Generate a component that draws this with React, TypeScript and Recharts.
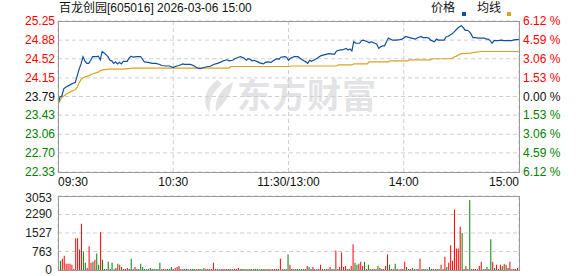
import { LineChart, Line, BarChart, Bar, Cell, XAxis, YAxis, CartesianGrid } from 'recharts';

const FONT = '"Liberation Sans", Arial, "Noto Sans CJK SC", sans-serif';
const RED = '#ff0000';
const GREEN = '#008000';

// minute index from 09:30 (0) to 15:00 (240), lunch break collapsed
const timeTicks = [0, 60, 120, 180, 240];
const timeLabels = ['09:30', '10:30', '11:30/13:00', '14:00', '15:00'];

const prevClose = 23.79;
const priceTicks = [22.33, 22.7, 23.06, 23.43, 23.79, 24.15, 24.52, 24.88, 25.25];
const pctTicks = [-6.12, -4.59, -3.06, -1.53, 0, 1.53, 3.06, 4.59, 6.12];
const volTicks = [0, 763, 1527, 2290, 3053];

// price line, sampled minutes
const priceMinutes = [
  0, 1, 2, 3, 4, 6, 8, 9, 10, 11, 12, 13, 14, 15, 16, 17, 18, 20, 21, 22,
  23, 24, 25, 26, 27, 28, 29, 30, 31, 32, 33, 34, 36, 37, 38, 39, 41, 43, 44, 45,
  47, 49, 51, 53, 54, 56, 58, 60, 61, 63, 65, 66, 69, 71, 72, 74, 76, 78, 79, 81,
  83, 85, 86, 88, 89, 91, 92, 94, 95, 97, 98, 99, 100, 101, 102, 104, 105, 107, 108, 109,
  111, 112, 114, 115, 116, 118, 119, 120, 121, 123, 125, 126, 128, 129, 130, 131, 132, 133, 135, 136,
  137, 139, 140, 141, 143, 144, 145, 147, 148, 150, 151, 152, 153, 154, 155, 157, 158, 159, 161, 162,
  163, 165, 166, 167, 168, 169, 170, 171, 172, 174, 176, 178, 179, 180, 181, 183, 184, 186, 187, 189,
  190, 192, 193, 194, 196, 197, 198, 199, 201, 202, 203, 205, 206, 207, 208, 209, 210, 211, 212, 213,
  214, 215, 216, 217, 219, 220, 222, 223, 224, 225, 226, 227, 229, 231, 232, 234, 236, 238, 240,
];
const priceValues = [
  23.64, 23.78, 23.8, 23.94, 23.97, 24.01, 24.05, 24.06, 24.19, 24.32, 24.42, 24.56, 24.48, 24.43, 24.43, 24.49, 24.56, 24.56, 24.57, 24.5,
  24.66, 24.63, 24.6, 24.56, 24.49, 24.48, 24.43, 24.46, 24.42, 24.45, 24.42, 24.47, 24.47, 24.53, 24.57, 24.55, 24.56, 24.56, 24.51, 24.46,
  24.45, 24.43, 24.43, 24.41, 24.39, 24.38, 24.38, 24.35, 24.37, 24.39, 24.42, 24.41, 24.41, 24.38, 24.35, 24.33, 24.35, 24.37, 24.37, 24.41,
  24.43, 24.46, 24.48, 24.5, 24.48, 24.49, 24.52, 24.55, 24.56, 24.53, 24.49, 24.52, 24.51, 24.48, 24.49, 24.46, 24.44, 24.42, 24.45, 24.46,
  24.45, 24.48, 24.52, 24.51, 24.55, 24.56, 24.55, 24.49, 24.53, 24.56, 24.56, 24.53, 24.48, 24.46, 24.43, 24.49, 24.47, 24.49, 24.53, 24.56,
  24.58, 24.6, 24.61, 24.62, 24.61, 24.61, 24.67, 24.69, 24.69, 24.72, 24.69, 24.71, 24.67, 24.85, 24.82, 24.82, 24.87, 24.88, 24.85, 24.83,
  24.85, 24.82, 24.8, 24.72, 24.75, 24.77, 24.77, 24.85, 24.92, 24.88, 24.88, 24.89, 24.9, 24.92, 24.95, 24.93, 24.92, 24.9, 24.92, 24.95,
  24.93, 24.93, 24.92, 24.88, 24.85, 24.9, 24.88, 24.88, 24.88, 24.94, 24.95, 25.0, 25.03, 25.07, 25.11, 25.14, 25.16, 25.12, 25.07, 25.07,
  25.05, 25.0, 24.93, 24.93, 24.92, 24.92, 24.92, 24.9, 24.9, 24.87, 24.82, 24.87, 24.87, 24.88, 24.87, 24.87, 24.87, 24.89, 24.89,
];

// average price line
const avgMinutes = [
  0, 2, 4, 6, 8, 9, 10, 11, 12, 13, 14, 16, 18, 19, 21, 22, 24, 27, 34, 39,
  89, 90, 120, 121, 145, 146, 153, 154, 161, 162, 172, 173, 182, 183, 194, 195, 205, 206, 208, 210,
  215, 216, 220, 240,
];
const avgValues = [
  23.64, 23.77, 23.83, 23.87, 23.91, 23.92, 23.97, 24.05, 24.12, 24.15, 24.17, 24.19, 24.23, 24.24, 24.26, 24.29, 24.31, 24.32, 24.32, 24.34,
  24.34, 24.37, 24.37, 24.38, 24.38, 24.4, 24.4, 24.42, 24.42, 24.46, 24.46, 24.48, 24.48, 24.5, 24.5, 24.52, 24.52, 24.55, 24.58, 24.62,
  24.63, 24.64, 24.66, 24.66,
];

// per-minute volume (241 bars) and direction (r = up, g = down)
const volumes = [
  466, 381, 466, 593, 254, 254, 254, 212, 42, 1314,
  1314, 848, 1907, 763, 297, 85, 975, 297, 339, 424,
  678, 212, 1568, 424, 40, 45, 339, 40, 297, 35,
  85, 254, 212, 127, 40, 40, 85, 40, 466, 40,
  127, 40, 45, 254, 127, 40, 35, 40, 85, 40,
  40, 45, 40, 297, 40, 40, 35, 40, 40, 127,
  40, 85, 127, 170, 40, 45, 40, 40, 35, 40,
  40, 40, 45, 40, 40, 35, 85, 40, 40, 45,
  40, 297, 40, 40, 35, 40, 40, 45, 40, 40,
  40, 35, 40, 40, 85, 40, 45, 40, 40, 35,
  40, 40, 45, 40, 40, 35, 40, 40, 45, 40,
  40, 35, 40, 40, 45, 40, 466, 40, 35, 40,
  636, 212, 40, 45, 40, 40, 35, 40, 40, 45,
  170, 127, 40, 127, 40, 35, 40, 212, 40, 45,
  40, 40, 127, 40, 35, 805, 40, 127, 720, 127,
  170, 40, 45, 170, 1060, 297, 212, 254, 339, 170,
  339, 40, 212, 40, 45, 40, 35, 170, 85, 40,
  40, 170, 636, 212, 40, 45, 254, 40, 35, 40,
  40, 339, 127, 40, 45, 85, 40, 35, 40, 466,
  40, 45, 40, 35, 127, 40, 40, 45, 40, 35,
  212, 40, 551, 127, 297, 1017, 381, 2501, 890, 890,
  1780, 1526, 40, 170, 40, 2883, 40, 45, 40, 35,
  170, 339, 40, 40, 127, 40, 1272, 339, 85, 212,
  40, 212, 170, 254, 212, 85, 339, 40, 45, 40,
  85,
];
const volumeDirs =
  'ggrrrrrrgr' + 'rrrggrrrgr' + 'ggrggggggg' + 'rgrrgrrggr' + 'rrgggggggg' +
  'ggggrrrggg' + 'rrrrggrrrg' + 'gggrgggrrr' + 'rrrrgrrrgg' + 'rrrrrrgggr' +
  'ggrgggggrr' + 'grrrgrrrgg' + 'grrrgggggg' + 'rggrrrrrgg' + 'rrrggrgrrr' +
  'rgrrrggrrr' + 'grgrgrggrr' + 'rrrgrrggrr' + 'rrgrrggrrr' + 'ggrgggrrgr' +
  'rgrgrrrrrr' + 'rggrgggrrr' + 'rrgrgrgrgr' + 'grgrgrrgrr' + 'r';

const priceData = priceMinutes.map((m, i) => ({ m, v: priceValues[i] }));
const avgData = avgMinutes.map((m, i) => ({ m, v: avgValues[i] }));
const volData = volumes.map((v, m) => ({ m, v }));

const priceColor = (v: number) => (v > prevClose + 0.001 ? RED : v < prevClose - 0.001 ? GREEN : '#111');
const pctColor = (v: number) => (v > 0 ? RED : v < 0 ? GREEN : '#111');

function TimeTick(props: any) {
  const { x, y, payload } = props;
  const i = timeTicks.indexOf(payload.value);
  const anchor = i === 0 ? 'start' : i === timeTicks.length - 1 ? 'end' : 'middle';
  return (
    <text x={x} y={y} dy={14} textAnchor={anchor} fontSize={12} fontFamily={FONT} fill="#111">
      {timeLabels[i]}
    </text>
  );
}

function PriceTick(props: any) {
  const { x, y, payload } = props;
  return (
    <text x={x} y={y} dy={4} textAnchor="end" fontSize={12} fontFamily={FONT} fill={priceColor(payload.value)}>
      {payload.value.toFixed(2)}
    </text>
  );
}

function PctTick(props: any) {
  const { x, y, payload } = props;
  return (
    <text x={x} y={y} dy={4} textAnchor="start" fontSize={12} fontFamily={FONT} fill={pctColor(payload.value)}>
      {Math.abs(payload.value).toFixed(2) + ' %'}
    </text>
  );
}

function VolTick(props: any) {
  const { x, y, payload } = props;
  return (
    <text x={x} y={y} dy={payload.value === 3053 ? 6 : 4} textAnchor="end" fontSize={12} fontFamily={FONT} fill="#222">
      {payload.value}
    </text>
  );
}

export default function App() {
  return (
    <div style={{ position: 'absolute', left: 0, top: 0, width: 578, height: 276, background: '#fff', overflow: 'hidden', fontFamily: FONT }}>
      <style>{'.vol svg rect { shape-rendering: crispEdges; }'}</style>

      {/* watermark */}
      <svg width={40} height={40} style={{ position: 'absolute', left: 198, top: 77 }} viewBox="198 77 40 40">
        <path d="M217 80 C204 90 202 104 210 113 C208 103 212 92 222 84 Z" fill="#e3e3e6" />
        <path d="M233 82 C221 88 214 100 216 112 C223 104 231 96 233 82 Z" fill="#e3e3e6" />
      </svg>
      <div style={{ position: 'absolute', left: 237, top: 74, fontSize: 34, lineHeight: '40px', fontWeight: 'bold', color: '#e3e3e6', letterSpacing: 1, fontFamily: '"Noto Sans CJK SC", sans-serif' }}>
        东方财富
      </div>

      {/* title and legend */}
      <div style={{ position: 'absolute', left: 59, top: 1, fontSize: 12, lineHeight: '14px', color: '#111', whiteSpace: 'nowrap' }}>
        百龙创园[605016] 2026-03-06 15:00
      </div>
      <div style={{ position: 'absolute', left: 431, top: 1, fontSize: 12, lineHeight: '14px', color: '#111', whiteSpace: 'nowrap' }}>价格</div>
      <div style={{ position: 'absolute', left: 462, top: 12, width: 4, height: 4, background: '#1050a0' }} />
      <div style={{ position: 'absolute', left: 477, top: 1, fontSize: 12, lineHeight: '14px', color: '#111', whiteSpace: 'nowrap' }}>均线</div>
      <div style={{ position: 'absolute', left: 507, top: 12, width: 4, height: 4, background: '#dca21f' }} />

      {/* price chart */}
      <div style={{ position: 'absolute', left: 0, top: 0 }}>
        <LineChart width={578} height={192} margin={{ top: 21, right: 0, bottom: 0, left: 0 }}>
          <CartesianGrid yAxisId="p" stroke="#cfcfcf" strokeDasharray="4 3" />
          <XAxis type="number" dataKey="m" domain={[0, 240]} ticks={timeTicks} interval={0} tick={<TimeTick />}
            tickLine={false} axisLine={false} tickSize={0} tickMargin={0} height={20} allowDataOverflow />
          <YAxis yAxisId="p" domain={[22.33, 25.25]} ticks={priceTicks} interval={0} tick={<PriceTick />}
            tickLine={false} axisLine={false} tickSize={0} tickMargin={3} width={58} allowDataOverflow />
          <YAxis yAxisId="pct" orientation="right" domain={[-6.12, 6.12]} ticks={pctTicks} interval={0} tick={<PctTick />}
            tickLine={false} axisLine={false} tickSize={0} tickMargin={4} width={59} allowDataOverflow />
          <Line yAxisId="p" data={avgData} dataKey="v" type="linear" stroke="#dca21f" strokeWidth={1.2} dot={false} isAnimationActive={false} />
          <Line yAxisId="p" data={priceData} dataKey="v" type="linear" stroke="#1050a0" strokeWidth={1.2} dot={false} isAnimationActive={false} />
        </LineChart>
      </div>
      <div style={{ position: 'absolute', left: 58, top: 21, width: 462, height: 152, boxSizing: 'border-box', border: '1px solid #999' }} />

      {/* volume chart */}
      <div className="vol" style={{ position: 'absolute', left: 0, top: 184 }}>
        <BarChart width={578} height={92} data={volData} margin={{ top: 12, right: 59, bottom: 6, left: 0 }} barCategoryGap={0}>
          <CartesianGrid stroke="#cfcfcf" strokeDasharray="4 3" />
          <XAxis dataKey="m" ticks={[60, 120, 180]} interval={0} tick={false} tickLine={false} axisLine={false} height={0} />
          <YAxis domain={[0, 3053]} ticks={volTicks} interval={0} tick={<VolTick />}
            tickLine={false} axisLine={false} tickSize={0} tickMargin={6} width={58} allowDataOverflow />
          <Bar dataKey="v" barSize={1} isAnimationActive={false}>
            {volData.map((d, i) => (
              <Cell key={d.m} fill={volumeDirs[i] === 'r' ? RED : GREEN} />
            ))}
          </Bar>
        </BarChart>
      </div>
      <div style={{ position: 'absolute', left: 58, top: 196, width: 462, height: 75, boxSizing: 'border-box', border: '1px solid #999' }} />
    </div>
  );
}
